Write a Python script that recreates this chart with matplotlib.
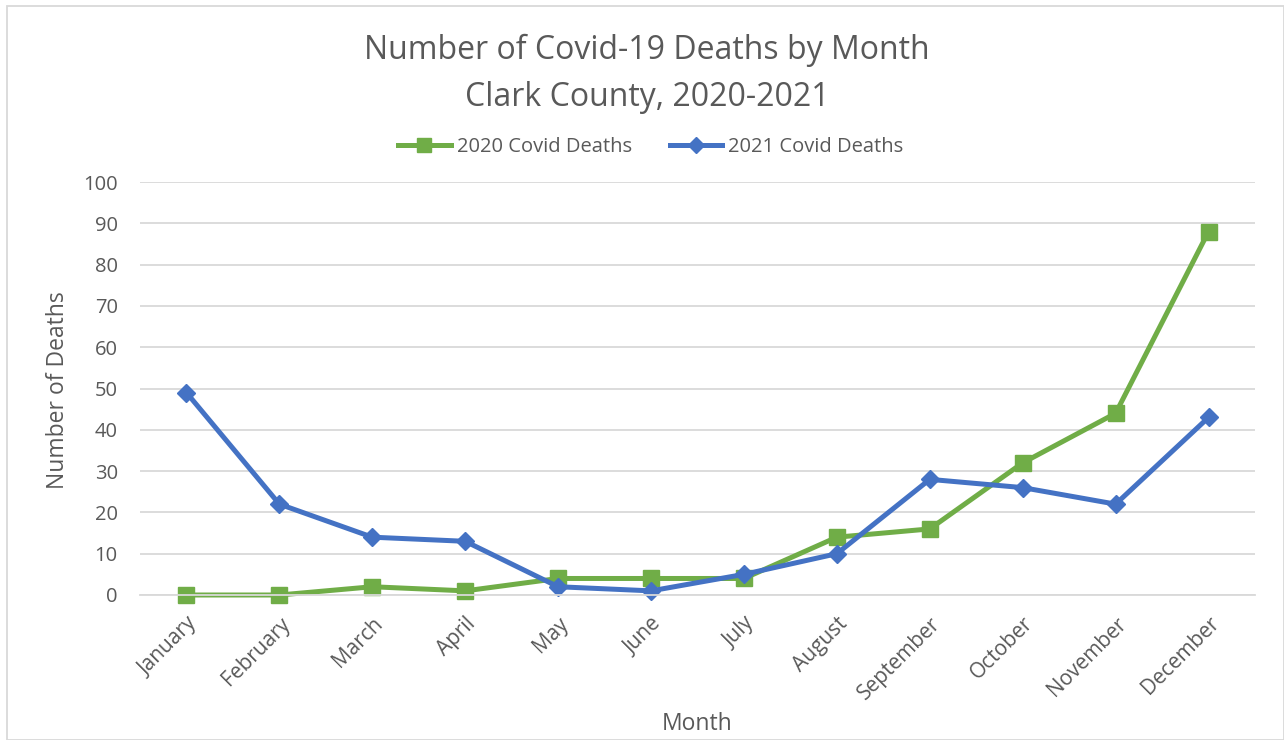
import numpy as np
import matplotlib.pyplot as plt
from matplotlib.patches import Rectangle

# Monthly Covid-19 deaths, Clark County
months = ['January', 'February', 'March', 'April', 'May', 'June', 'July',
          'August', 'September', 'October', 'November', 'December']
deaths_2020 = [0, 0, 2, 1, 4, 4, 4, 14, 16, 32, 44, 88]
deaths_2021 = [49, 22, 14, 13, 2, 1, 5, 10, 28, 26, 22, 43]

GREEN = '#70AD47'
BLUE = '#4472C4'
TEXT = '#595959'
GRID = '#D9D9D9'

plt.rcParams['font.family'] = ['Open Sans', 'DejaVu Sans']

W, H = 1284, 740
fig = plt.figure(figsize=(W / 100, H / 100), dpi=100)
ax = fig.add_axes([140 / W, 145 / H, 1115 / W, 413 / H])

x = np.arange(len(months))
ax.plot(x, deaths_2020, color=GREEN, lw=3.6, marker='s', ms=11,
        label='2020 Covid Deaths', solid_joinstyle='round', clip_on=False)
ax.plot(x, deaths_2021, color=BLUE, lw=3.6, marker='D', ms=9,
        label='2021 Covid Deaths', solid_joinstyle='round', clip_on=False)

ax.set_xlim(-0.5, len(months) - 0.5)
ax.set_ylim(0, 100)
ax.set_yticks(np.arange(0, 101, 10))
ax.set_xticks(x)
ax.set_xticklabels(months, rotation=45, ha='right', rotation_mode='anchor')
ax.tick_params(axis='both', length=0, colors=TEXT)
ax.tick_params(axis='x', pad=13, labelsize=15)
ax.tick_params(axis='y', pad=16, labelsize=14.5)
ax.grid(axis='y', color=GRID, lw=1.3)
ax.set_axisbelow(True)
for side in ['top', 'right', 'left']:
    ax.spines[side].set_visible(False)
ax.spines['bottom'].set_color(GRID)
ax.spines['bottom'].set_linewidth(1.3)

# axis titles placed in pixel terms relative to the plot area
ax.set_xlabel('Month', color=TEXT, fontsize=16.5)
ax.xaxis.set_label_coords((697 - 140) / 1115, -(724 - 595) / 413)
ax.set_ylabel('Number of Deaths', color=TEXT, fontsize=16.5)
ax.yaxis.set_label_coords(-(140 - 58) / 1115, (595 - 390) / 413)
ax.xaxis.label.set_va('center')
ax.yaxis.label.set_va('center')

fig.text(647 / W, 1 - 50 / H, 'Number of Covid-19 Deaths by Month',
         ha='center', va='center', fontsize=23, color=TEXT)
fig.text(647 / W, 1 - 97 / H, 'Clark County, 2020-2021',
         ha='center', va='center', fontsize=23, color=TEXT)

ax.legend(loc='center', bbox_to_anchor=((651 - 140) / 1115, (595 - 147) / 413),
          ncol=2, frameon=False, fontsize=14.5, labelcolor=TEXT,
          handlelength=2.6, columnspacing=1.9, handletextpad=0.3,
          markerscale=0.95)

fig.patches.append(Rectangle((7 / W, 0), 1 - 7 / W, 1 - 6 / H,
                             transform=fig.transFigure, fill=False,
                             edgecolor=GRID, lw=1.3))

fig.savefig('out.png', dpi=100, facecolor='white')
